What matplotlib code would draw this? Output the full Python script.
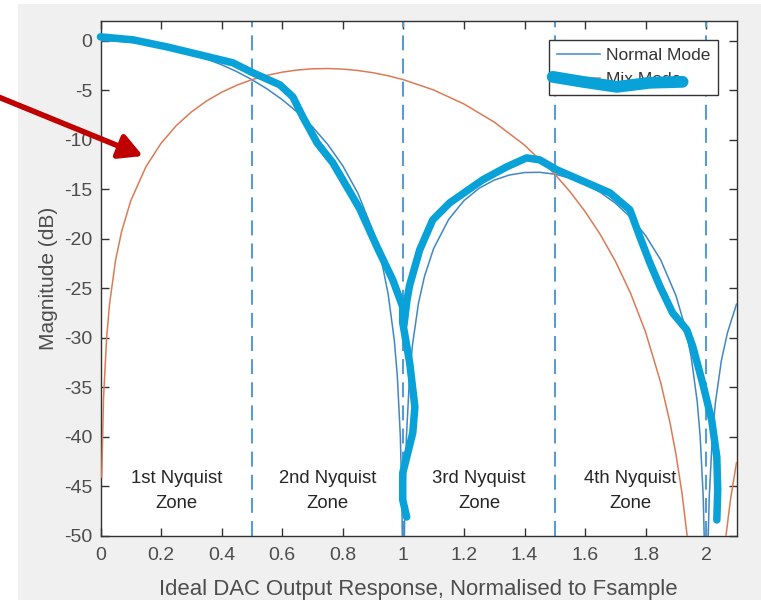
import numpy as np
import matplotlib
matplotlib.use("Agg")
import matplotlib.pyplot as plt
from matplotlib.patches import Rectangle

# ---------------- data ----------------
f_normal = [0, 0.05, 0.1, 0.15, 0.2, 0.25, 0.3, 0.35, 0.4, 0.45, 0.5, 0.55, 0.6,
            0.65, 0.7, 0.75, 0.8, 0.85, 0.9, 0.93, 0.95, 0.97, 0.98, 0.99, 0.995,
            0.998, 1.0, 1.002, 1.005, 1.01, 1.02, 1.03, 1.05, 1.07, 1.1, 1.15, 1.2,
            1.25, 1.3, 1.35, 1.4, 1.45, 1.5, 1.55, 1.6, 1.65, 1.7, 1.75, 1.8, 1.85,
            1.9, 1.93, 1.95, 1.97, 1.98, 1.99, 1.995, 2.0, 2.005, 2.01, 2.02, 2.03,
            2.05, 2.07, 2.1]
db_normal = [0.0, -0.036, -0.143, -0.324, -0.579, -0.912, -1.326, -1.827, -2.420,
             -3.115, -3.922, -4.858, -5.942, -7.203, -8.686, -10.454, -12.620,
             -15.391, -19.228, -22.538, -25.611, -30.206, -33.810, -39.914, -45.978,
             -53.96, -90.0, -54.0, -46.065, -40.088, -34.157, -30.727, -26.480,
             -23.756, -20.971, -18.016, -16.142, -14.891, -14.063, -13.552, -13.301,
             -13.278, -13.465, -13.857, -14.461, -15.295, -16.393, -17.814, -19.664,
             -22.145, -25.718, -28.879, -31.858, -36.360, -39.919, -45.978, -52.02,
             -90.0, -52.06, -46.065, -40.092, -36.621, -32.292, -29.487, -26.588]

f_mix = [0.004, 0.01, 0.02, 0.03, 0.05, 0.07, 0.1, 0.15, 0.2, 0.25, 0.3, 0.35, 0.4,
         0.45, 0.5, 0.55, 0.6, 0.65, 0.7, 0.75, 0.8, 0.85, 0.9, 0.95, 1.0, 1.1, 1.2,
         1.3, 1.4, 1.5, 1.55, 1.6, 1.65, 1.7, 1.75, 1.8, 1.85, 1.88, 1.9, 1.92, 1.94,
         1.96, 2.0, 2.04, 2.06, 2.08, 2.1]
db_mix = [-44.04, -36.08, -30.06, -26.54, -22.116, -19.211, -16.149, -12.717,
          -10.344, -8.568, -7.183, -6.080, -5.195, -4.485, -3.922, -3.488, -3.167,
          -2.950, -2.829, -2.799, -2.856, -2.998, -3.223, -3.531, -3.922, -4.966,
          -6.378, -8.206, -10.527, -13.465, -15.227, -17.236, -19.549, -22.249,
          -25.469, -29.428, -34.539, -38.497, -41.724, -45.666, -50.733, -57.85,
          -100.0, -58.20, -51.25, -46.36, -42.59]

zone_edges = [0.5, 1.0, 1.5, 2.0]
zone_centers = [0.25, 0.75, 1.25, 1.75]
zone_labels = ["1st Nyquist\nZone", "2nd Nyquist\nZone", "3rd Nyquist\nZone",
               "4th Nyquist\nZone"]
series_names = ["Normal Mode", "Mix Mode"]

# hand-drawn highlight strokes (data coordinates)
scribble1_x = [0.0, 0.107, 0.219, 0.328, 0.437, 0.503, 0.592, 0.635, 0.668, 0.715,
               0.767, 0.833, 0.856, 0.913, 0.965, 0.998, 0.998, 1.021, 1.038,
               1.031, 0.998, 0.998, 1.011]
scribble1_y = [0.40, 0.10, -0.61, -1.41, -2.22, -3.23, -4.44, -5.66, -7.68, -10.30,
               -12.32, -15.76, -16.97, -20.81, -24.14, -26.87, -28.48, -32.53,
               -36.97, -39.60, -43.64, -46.36, -48.08]
scribble2_x = [1.002, 1.012, 1.021, 1.054, 1.097, 1.153, 1.262, 1.341, 1.407, 1.450,
               1.507, 1.606, 1.682, 1.748, 1.781, 1.814, 1.848, 1.889, 1.936,
               1.956, 1.988, 2.018, 2.035, 2.038, 2.035]
scribble2_y = [-28.69, -26.16, -24.65, -21.11, -18.08, -16.36, -14.04, -12.73,
               -11.82, -12.02, -13.03, -14.34, -15.35, -17.07, -19.80, -22.42,
               -24.85, -27.47, -29.19, -30.91, -34.55, -38.28, -42.02, -45.35,
               -48.38]
scribble3_x = [1.493, 1.592, 1.705, 1.813, 1.922]
scribble3_y = [-3.64, -4.14, -4.65, -4.24, -4.14]

# ---------------- figure ----------------
plt.rcParams['font.family'] = ['Liberation Sans', 'DejaVu Sans']
plt.rcParams['axes.unicode_minus'] = False
W, H = 761, 600
fig = plt.figure(figsize=(W / 100, H / 100), dpi=100)
fig.patch.set_facecolor('white')
fig.add_artist(Rectangle((18 / W, 0), 1 - 18 / W, 1 - 4 / H, transform=fig.transFigure,
                         facecolor='#f0f0f0', edgecolor='none', zorder=-10))

ax = fig.add_axes([100.5 / W, 1 - 536 / H, 636 / W, 515 / H])
ax.set_facecolor('white')

blue = '#3f88c5'
orange = '#dd7a55'
ax.plot(f_normal, db_normal, color=blue, lw=1.1, label=series_names[0], zorder=3)
ax.plot(f_mix, db_mix, color=orange, lw=1.1, label=series_names[1], zorder=3)

for xe in zone_edges:
    ax.axvline(xe, color='#5a9ccf', lw=1.5, linestyle=(0, (7.2, 3.9)), zorder=2)

for xc, lab in zip(zone_centers, zone_labels):
    ax.text(xc, -45.45, lab, ha='center', va='center', fontsize=13.3,
            color='#262626', linespacing=1.6, zorder=4)

ax.set_xlim(0, 2.1)
ax.set_ylim(-50, 2)
ax.set_xticks(np.arange(0, 2.01, 0.2))
ax.set_xticklabels(['0', '0.2', '0.4', '0.6', '0.8', '1', '1.2', '1.4', '1.6',
                    '1.8', '2'])
ax.set_yticks(np.arange(-50, 1, 5))
ax.tick_params(direction='in', length=6, width=1, colors='#333333', labelcolor='#4d4d4d',
               labelsize=14, top=True, right=True)
ax.tick_params(axis='x', pad=8)
ax.tick_params(axis='y', pad=6)
for s in ax.spines.values():
    s.set_color('#333333')
    s.set_linewidth(1.0)

ax.set_xlabel('Ideal DAC Output Response, Normalised to Fsample', fontsize=15.9,
              color='#4d4d4d', labelpad=11)
ax.set_ylabel('Magnitude (dB)', fontsize=15, color='#4d4d4d', labelpad=4.5)

leg = ax.legend(loc='upper right', bbox_to_anchor=(0.9715, 0.963), borderaxespad=0,
                fontsize=12.5, frameon=True, fancybox=False, edgecolor='#333333',
                framealpha=1, handlelength=2.5, borderpad=0.45, labelspacing=0.5,
                handletextpad=0.35)
leg.get_frame().set_linewidth(1.0)
leg.set_zorder(5)
for t in leg.get_texts():
    t.set_color('#333333')

# hand-drawn highlight strokes
cyan = '#08a2d8'
ax.plot(scribble1_x, scribble1_y, color=cyan, lw=5.4, solid_capstyle='round',
        solid_joinstyle='round', zorder=6, clip_on=False)
ax.plot(scribble2_x, scribble2_y, color=cyan, lw=5.4, solid_capstyle='round',
        solid_joinstyle='round', zorder=6, clip_on=False)
ax.plot(scribble3_x, scribble3_y, color=cyan, lw=8.5, solid_capstyle='round',
        solid_joinstyle='round', zorder=7, clip_on=False)

# red arrow from outside the axes
ax.annotate('', xy=(143, H - 156), xytext=(-4, H - 96), xycoords='figure pixels',
            textcoords='figure pixels',
            arrowprops=dict(arrowstyle='-|>,head_length=1.4,head_width=0.75',
                            color='#c00000', lw=4.0, shrinkA=0, shrinkB=0),
            annotation_clip=False, zorder=8)

fig.savefig('out.png', dpi=100, facecolor=fig.get_facecolor())
